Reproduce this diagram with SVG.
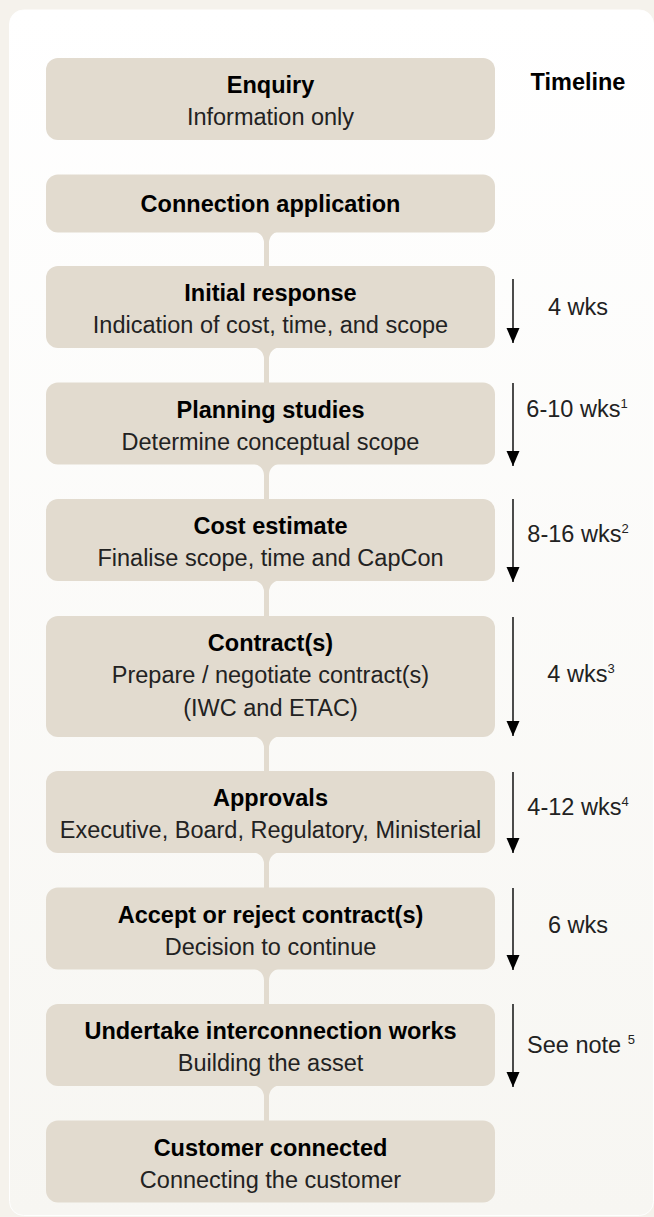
<svg xmlns="http://www.w3.org/2000/svg" width="654" height="1217" viewBox="0 0 654 1217">
  <defs>
    <linearGradient id="cardGrad" x1="0" y1="0" x2="0" y2="1">
      <stop offset="0" stop-color="#ffffff"/>
      <stop offset="1" stop-color="#f7f6f2"/>
    </linearGradient>
    <marker id="arrowHead" markerUnits="userSpaceOnUse" markerWidth="14" markerHeight="16" refX="7" refY="15" orient="0" viewBox="0 0 14 16">
      <path d="M0.5,0 L13.5,0 L7,15 Z" fill="#000"/>
    </marker>
    <style>
      .box { fill: #e2dbcf; }
      .conn { fill: #e2dbcf; }
      .title { font-family: "Liberation Sans", Arial, sans-serif; font-weight: bold; font-size: 23.5px; fill: #000; text-anchor: middle; }
      .sub { font-family: "Liberation Sans", Arial, sans-serif; font-size: 23.5px; fill: #222; text-anchor: middle; }
      .tl { font-family: "Liberation Sans", Arial, sans-serif; font-size: 23.5px; fill: #222; text-anchor: middle; }
      .sup { font-size: 13px; }
      .arrow { stroke: #000; stroke-width: 1.4; fill: none; }
    </style>
  </defs>

  <rect x="0" y="0" width="654" height="1217" fill="#f5f2ec"/>
  <rect x="9.5" y="10" width="644" height="1205.5" rx="14" fill="url(#cardGrad)" stroke="#ffffff" stroke-width="1"/>

  <g id="connectors">
    <path class="conn" d="M252,231 A12,12 0 0 1 264,243 L264,267 L269,267 L269,243 A12,12 0 0 1 281,231 Z"/>
    <path class="conn" d="M252,347 A12,12 0 0 1 264,359 L264,383.5 L269,383.5 L269,359 A12,12 0 0 1 281,347 Z"/>
    <path class="conn" d="M252,463.5 A12,12 0 0 1 264,475.5 L264,500 L269,500 L269,475.5 A12,12 0 0 1 281,463.5 Z"/>
    <path class="conn" d="M252,580 A12,12 0 0 1 264,592 L264,617 L269,617 L269,592 A12,12 0 0 1 281,580 Z"/>
    <path class="conn" d="M252,736 A12,12 0 0 1 264,748 L264,772 L269,772 L269,748 A12,12 0 0 1 281,736 Z"/>
    <path class="conn" d="M252,852 A12,12 0 0 1 264,864 L264,888.5 L269,888.5 L269,864 A12,12 0 0 1 281,852 Z"/>
    <path class="conn" d="M252,968.5 A12,12 0 0 1 264,980.5 L264,1005 L269,1005 L269,980.5 A12,12 0 0 1 281,968.5 Z"/>
    <path class="conn" d="M252,1085 A12,12 0 0 1 264,1097 L264,1121.5 L269,1121.5 L269,1097 A12,12 0 0 1 281,1085 Z"/>
  </g>

  <g id="enquiry">
    <rect class="box" x="46" y="58" width="449" height="82" rx="12"/>
    <text class="title" x="270.5" y="93">Enquiry</text>
    <text class="sub" x="270.5" y="125">Information only</text>
  </g>
  <g id="timeline-header">
    <text class="title" x="578" y="90">Timeline</text>
  </g>
  <g id="connection-application">
    <rect class="box" x="46" y="174.5" width="449" height="58" rx="12"/>
    <text class="title" x="270.5" y="212">Connection application</text>
  </g>
  <g id="initial-response">
    <rect class="box" x="46" y="266" width="449" height="82" rx="12"/>
    <text class="title" x="270.5" y="301">Initial response</text>
    <text class="sub" x="270.5" y="333">Indication of cost, time, and scope</text>
  </g>
  <g id="planning-studies">
    <rect class="box" x="46" y="382.5" width="449" height="82" rx="12"/>
    <text class="title" x="270.5" y="417.5">Planning studies</text>
    <text class="sub" x="270.5" y="449.5">Determine conceptual scope</text>
  </g>
  <g id="cost-estimate">
    <rect class="box" x="46" y="499" width="449" height="82" rx="12"/>
    <text class="title" x="270.5" y="534">Cost estimate</text>
    <text class="sub" x="270.5" y="566">Finalise scope, time and CapCon</text>
  </g>
  <g id="contracts">
    <rect class="box" x="46" y="616" width="449" height="121" rx="12"/>
    <text class="title" x="270.5" y="651">Contract(s)</text>
    <text class="sub" x="270.5" y="683">Prepare / negotiate contract(s)</text>
    <text class="sub" x="270.5" y="716">(IWC and ETAC)</text>
  </g>
  <g id="approvals">
    <rect class="box" x="46" y="771" width="449" height="82" rx="12"/>
    <text class="title" x="270.5" y="806">Approvals</text>
    <text class="sub" x="270.5" y="838">Executive, Board, Regulatory, Ministerial</text>
  </g>
  <g id="accept-reject">
    <rect class="box" x="46" y="887.5" width="449" height="82" rx="12"/>
    <text class="title" x="270.5" y="922.5">Accept or reject contract(s)</text>
    <text class="sub" x="270.5" y="954.5">Decision to continue</text>
  </g>
  <g id="undertake-works">
    <rect class="box" x="46" y="1004" width="449" height="82" rx="12"/>
    <text class="title" x="270.5" y="1039">Undertake interconnection works</text>
    <text class="sub" x="270.5" y="1071">Building the asset</text>
  </g>
  <g id="customer-connected">
    <rect class="box" x="46" y="1120.5" width="449" height="82" rx="12"/>
    <text class="title" x="270.5" y="1156">Customer connected</text>
    <text class="sub" x="270.5" y="1188">Connecting the customer</text>
  </g>

  <g id="timeline-arrows">
    <line class="arrow" x1="513" y1="279" x2="513" y2="343" marker-end="url(#arrowHead)"/>
    <line class="arrow" x1="513" y1="383" x2="513" y2="466" marker-end="url(#arrowHead)"/>
    <line class="arrow" x1="513" y1="499" x2="513" y2="582" marker-end="url(#arrowHead)"/>
    <line class="arrow" x1="513" y1="617" x2="513" y2="736" marker-end="url(#arrowHead)"/>
    <line class="arrow" x1="513" y1="772" x2="513" y2="853" marker-end="url(#arrowHead)"/>
    <line class="arrow" x1="513" y1="888" x2="513" y2="970" marker-end="url(#arrowHead)"/>
    <line class="arrow" x1="513" y1="1004" x2="513" y2="1087" marker-end="url(#arrowHead)"/>
  </g>

  <g id="timeline-labels">
    <text class="tl" x="578" y="315">4 wks</text>
    <text class="tl" x="577" y="417">6-10 wks<tspan class="sup" dy="-9">1</tspan></text>
    <text class="tl" x="578" y="542">8-16 wks<tspan class="sup" dy="-9">2</tspan></text>
    <text class="tl" x="581" y="682">4 wks<tspan class="sup" dy="-9">3</tspan></text>
    <text class="tl" x="578" y="815">4-12 wks<tspan class="sup" dy="-9">4</tspan></text>
    <text class="tl" x="578" y="933">6 wks</text>
    <text class="tl" x="581" y="1053">See note <tspan class="sup" dy="-9">5</tspan></text>
  </g>
</svg>
